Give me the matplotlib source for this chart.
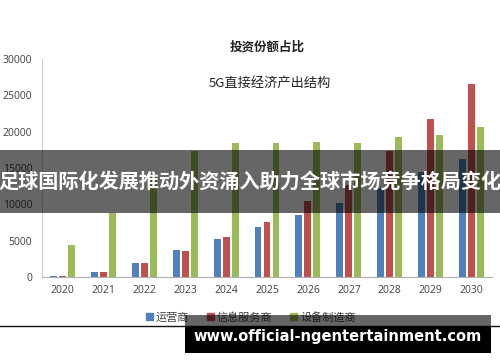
import matplotlib
matplotlib.use("Agg")
import matplotlib.pyplot as plt
from matplotlib.patches import Rectangle
from matplotlib.lines import Line2D
import numpy as np

plt.rcParams['font.family'] = ['Noto Sans CJK SC', 'DejaVu Sans']

years = ['2020', '2021', '2022', '2023', '2024', '2025', '2026', '2027', '2028', '2029', '2030']
operators = [150, 750, 1950, 3700, 5250, 6900, 8550, 10200, 12300, 14400, 16300]
info_services = [150, 650, 1900, 3600, 5500, 7600, 10400, 12600, 17300, 21700, 26600]
equipment = [4400, 8800, 14200, 17300, 18400, 18400, 18600, 18500, 19200, 19600, 20600]
series_names = ['运营商', '信息服务商', '设备制造商']
colors = ['#4f81bd', '#c0504d', '#9bbb59']
yticks = [0, 5000, 10000, 15000, 20000, 25000, 30000]

W, H = 500, 362
fig = plt.figure(figsize=(W / 100, H / 100), dpi=100)
fig.patch.set_facecolor('white')

def fx(px):
    return px / W

def fy(py):
    return 1 - py / H

ax = fig.add_axes([fx(42), fy(277), fx(450), (277 - 59) / H])
x = np.arange(len(years))
bw = 0.17
off = 0.22
for i, (vals, c) in enumerate(zip([operators, info_services, equipment], colors)):
    ax.bar(x + (i - 1) * off, vals, width=bw, color=c, label=series_names[i], zorder=2)

ax.set_xlim(-0.5, 10.5)
ax.set_ylim(0, 30000)
ax.set_yticks(yticks)
ax.set_yticklabels([str(v) for v in yticks], fontsize=7.5, color='#404040', family='Open Sans')
ax.set_xticks(x)
ax.set_xticklabels(years, fontsize=7.5, color='#404040', family='Open Sans')
ax.tick_params(length=0, pad=6)
ax.tick_params(axis='y', pad=7)
for s in ['top', 'right']:
    ax.spines[s].set_visible(False)
ax.spines['left'].set_color('#d0d0d0')
ax.spines['bottom'].set_color('#b0b0b0')

fig.text(fx(267), fy(47), '投资份额占比', ha='center', va='center', fontsize=9, fontweight='bold', color='#222222')
fig.text(fx(270), fy(83), '5G直接经济产出结构', ha='center', va='center', fontsize=9.5, color='#222222')

handles = [Rectangle((0, 0), 1, 1, color=c) for c in colors]
fig.legend(handles, series_names, loc='center', bbox_to_anchor=(fx(251), fy(317)),
           ncol=3, frameon=False, fontsize=8, handlelength=0.6, handleheight=0.6,
           handletextpad=0.3, columnspacing=1.6, labelcolor='#404040')

# overlay banner
fig.add_artist(Rectangle((0, fy(213)), 1, (213 - 150) / H, transform=fig.transFigure,
                         facecolor='black', alpha=0.6, edgecolor='none', zorder=10))
fig.text(0.5, fy(181), '足球国际化发展推动外资涌入助力全球市场竞争格局变化', ha='center', va='center',
         fontsize=14.5, fontweight='bold', color='white', zorder=11)

# separator line
fig.add_artist(Line2D([0, 1], [fy(326), fy(326)], transform=fig.transFigure, color='#111111', lw=1.0, zorder=9))

# url box
fig.add_artist(Rectangle((fx(185), fy(326)), fx(306), (326 - 315) / H, transform=fig.transFigure,
                         facecolor='black', alpha=0.6, edgecolor='none', zorder=10))
fig.add_artist(Rectangle((fx(185), fy(353)), fx(306), (353 - 326) / H, transform=fig.transFigure,
                         facecolor='black', edgecolor='none', zorder=10))
fig.text(fx(338), fy(336), 'www.official-ngentertainment.com', ha='center', va='center',
         fontsize=10.5, fontweight='bold', color='white', family='DejaVu Sans', zorder=11)

fig.savefig('out.png', dpi=100)
